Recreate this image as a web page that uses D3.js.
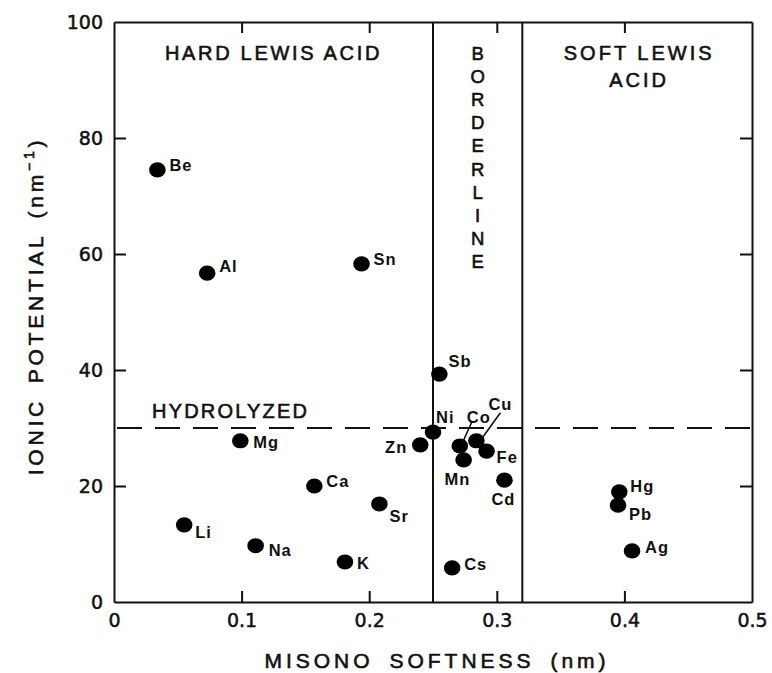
<!DOCTYPE html>
<html>
<head>
<meta charset="utf-8">
<script src="https://cdn.jsdelivr.net/npm/d3@7/dist/d3.min.js"></script>
<style>
  html, body { margin: 0; padding: 0; background: #fff; }
  svg { display: block; }
  .tick text { font-family: "DejaVu Sans", sans-serif; font-size: 19px; fill: #111; stroke: #111; stroke-width: 0.5px; }
  .domain, .tick line { stroke: #111; stroke-width: 2; }
  .heavy { stroke: #111; stroke-width: 0.6px; }
</style>
</head>
<body>
<svg id="chart" width="772" height="673"></svg>
<script>
// Metal ions: Misono softness (nm) vs ionic potential (nm^-1)
const elements = ["Be","Al","Sn","Sb","Mg","Zn","Ni","Ca","Sr","Li","Na","K",
                  "Co","Cu","Fe","Mn","Cd","Cs","Hg","Pb","Ag"];
const softness = [0.034,0.073,0.194,0.255,0.099,0.240,0.250,0.157,0.208,0.055,0.111,0.181,
                  0.271,0.284,0.292,0.274,0.306,0.265,0.396,0.395,0.406];
const ionicPotential = [74.5,56.7,58.3,39.3,27.8,27.1,29.3,20.0,16.9,13.3,9.7,6.9,
                        26.9,27.8,26.0,24.5,21.0,5.9,19.0,16.7,8.8];

const xTicks = [0, 0.1, 0.2, 0.3, 0.4, 0.5];
const xTickLabels = ["0", "0.1", "0.2", "0.3", "0.4", "0.5"];
const yTicks = [0, 20, 40, 60, 80, 100];
const yTickLabels = ["0", "20", "40", "60", "80", "100"];

// Region boundaries
const hardBorderline = 0.25;
const borderlineSoft = 0.32;
const hydrolyzedLevel = 30;

// Label placement (offset of text from its point, px), with optional leader lines
const labelLayout = {
  Be:{dx:12,dy:1}, Al:{dx:12,dy:-1}, Sn:{dx:12,dy:1}, Sb:{dx:9,dy:-7},
  Mg:{dx:13,dy:7}, Zn:{dx:-13,dy:8,anchor:"end"}, Ni:{dx:3,dy:-9},
  Ca:{dx:12,dy:1}, Sr:{dx:10,dy:18}, Li:{dx:11,dy:13}, Na:{dx:13,dy:10},
  K:{dx:12,dy:7},
  Co:{dx:7,dy:-23, leader:[12,-24,3,-4]},
  Cu:{dx:12,dy:-31, leader:[24,-28,6,-3]},
  Fe:{dx:10,dy:12}, Mn:{dx:-19,dy:25}, Cd:{dx:-13,dy:25},
  Cs:{dx:12,dy:2}, Hg:{dx:11,dy:0}, Pb:{dx:11,dy:15}, Ag:{dx:13,dy:2}
};

const margin = {left: 114, top: 22, right: 20, bottom: 71};
const W = 772, H = 673;
const iw = W - margin.left - margin.right;
const ih = H - margin.top - margin.bottom;

const svg = d3.select("#chart");
const g = svg.append("g").attr("transform", `translate(${margin.left},${margin.top})`);

const x = d3.scaleLinear().domain([0, 0.5]).range([0, iw]);
const y = d3.scaleLinear().domain([0, 100]).range([ih, 0]);

// Axes: ticks point into the plot on all four sides
g.append("g").attr("transform", `translate(0,${ih})`)
  .call(d3.axisBottom(x).tickValues(xTicks).tickSize(-11).tickSizeOuter(0).tickPadding(12)
    .tickFormat((d, i) => xTickLabels[i]));
g.append("g")
  .call(d3.axisTop(x).tickValues(xTicks).tickSize(-11).tickSizeOuter(0).tickFormat(""));
g.append("g")
  .call(d3.axisLeft(y).tickValues(yTicks).tickSize(-12).tickSizeOuter(0).tickPadding(11)
    .tickFormat((d, i) => yTickLabels[i]));
g.append("g").attr("transform", `translate(${iw},0)`)
  .call(d3.axisRight(y).tickValues(yTicks).tickSize(-12).tickSizeOuter(0).tickFormat(""));

g.selectAll(".tick text").attr("fill", "#111");
g.selectAll(".tick").filter(d => d === 0 || d === 100 || d === 0.5)
  .select("line").remove();

// Region dividers
g.selectAll("line.divider").data([hardBorderline, borderlineSoft]).join("line")
  .attr("class", "divider")
  .attr("x1", d => x(d)).attr("x2", d => x(d))
  .attr("y1", 0).attr("y2", ih)
  .attr("stroke", "#111").attr("stroke-width", 2);

// Hydrolysis threshold
g.append("line")
  .attr("x1", 3).attr("x2", iw)
  .attr("y1", y(hydrolyzedLevel)).attr("y2", y(hydrolyzedLevel))
  .attr("stroke", "#111").attr("stroke-width", 2)
  .attr("stroke-dasharray", "25 13");

const regionFont = "'Liberation Sans', Arial, sans-serif";

g.append("text").attr("class", "heavy")
  .attr("x", (x(0) + x(hardBorderline)) / 2).attr("y", 38)
  .attr("text-anchor", "middle")
  .style("font-family", regionFont).style("font-size", "20px").style("letter-spacing", "2.7px")
  .attr("fill", "#111").text("HARD LEWIS ACID");

const soft = g.append("text").attr("class", "heavy")
  .attr("text-anchor", "middle")
  .style("font-family", regionFont).style("font-size", "20px").style("letter-spacing", "3px")
  .attr("fill", "#111");
soft.append("tspan").attr("x", (x(borderlineSoft) + x(0.5)) / 2 + 2).attr("y", 38).text("SOFT LEWIS");
soft.append("tspan").attr("x", (x(borderlineSoft) + x(0.5)) / 2 + 2).attr("y", 65).text("ACID");

// Vertical stacked BORDERLINE
const borderWord = "BORDERLINE".split("");
g.selectAll("text.border").data(borderWord).join("text")
  .attr("class", "border heavy")
  .attr("x", (x(hardBorderline) + x(borderlineSoft)) / 2)
  .attr("y", (d, i) => 38 + i * 23.1)
  .attr("text-anchor", "middle")
  .style("font-family", regionFont).style("font-size", "18.5px")
  .attr("fill", "#111").text(d => d);

g.append("text").attr("class", "heavy")
  .attr("x", 38).attr("y", y(hydrolyzedLevel) - 10)
  .style("font-family", regionFont).style("font-size", "20px").style("letter-spacing", "2.2px")
  .attr("fill", "#111").text("HYDROLYZED");

// Points and labels
const data = elements.map((e, i) => ({name: e, sx: softness[i], ip: ionicPotential[i]}));

g.selectAll("ellipse.pt").data(data).join("ellipse")
  .attr("class", "pt")
  .attr("cx", d => x(d.sx)).attr("cy", d => y(d.ip))
  .attr("rx", 8.3).attr("ry", 7.6)
  .attr("fill", "#000");

g.selectAll("line.leader").data(data.filter(d => labelLayout[d.name].leader)).join("line")
  .attr("class", "leader")
  .attr("x1", d => x(d.sx) + labelLayout[d.name].leader[0])
  .attr("y1", d => y(d.ip) + labelLayout[d.name].leader[1])
  .attr("x2", d => x(d.sx) + labelLayout[d.name].leader[2])
  .attr("y2", d => y(d.ip) + labelLayout[d.name].leader[3])
  .attr("stroke", "#111").attr("stroke-width", 1.6);

g.selectAll("text.lbl").data(data).join("text")
  .attr("class", "lbl")
  .attr("x", d => x(d.sx) + labelLayout[d.name].dx)
  .attr("y", d => y(d.ip) + labelLayout[d.name].dy)
  .attr("text-anchor", d => labelLayout[d.name].anchor || "start")
  .style("font-family", regionFont).style("font-size", "16.5px").style("font-weight", "bold")
  .style("letter-spacing", "1px")
  .attr("fill", "#111").text(d => d.name);

// Axis titles
svg.append("text").attr("class", "heavy")
  .attr("x", 437).attr("y", 668)
  .attr("text-anchor", "middle")
  .style("font-family", regionFont).style("font-size", "21px").style("letter-spacing", "4px")
  .style("word-spacing", "6px")
  .attr("fill", "#111").text("MISONO SOFTNESS (nm)");

const yt = svg.append("text").attr("class", "heavy")
  .attr("transform", "translate(43,306) rotate(-90)")
  .attr("text-anchor", "middle")
  .style("font-family", regionFont).style("font-size", "21px").style("letter-spacing", "3.8px")
  .style("word-spacing", "5px")
  .attr("fill", "#111");
yt.append("tspan").text("IONIC POTENTIAL (nm");
yt.append("tspan").attr("dy", -9).style("font-size", "14px").text("−1");
yt.append("tspan").attr("dy", 9).text(")");
</script>
</body>
</html>
